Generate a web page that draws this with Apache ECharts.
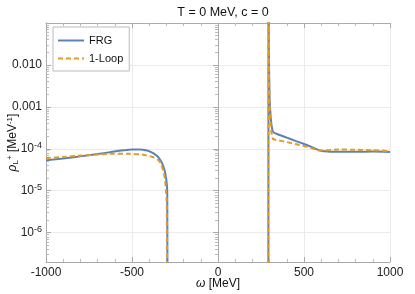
<!DOCTYPE html>
<html>
<head>
<meta charset="utf-8">
<script src="https://cdn.jsdelivr.net/npm/echarts@6/dist/echarts.min.js"></script>
<style>html,body{margin:0;padding:0;background:#fff}#c{width:415px;height:294px}</style>
</head>
<body>
<div id="c"></div>
<script>
// ---- data ----
const omegaLeftFRG  = [-1000,-900,-800,-700,-628,-550,-500,-450,-420,-395,-375,-357,-340,-328,-318,-308,-302,-298,-295,-293];
const frgLeft       = [5.3e-5,5.9e-5,6.6e-5,7.5e-5,8.3e-5,9.2e-5,9.6e-5,9.6e-5,9.2e-5,8.6e-5,7.8e-5,6.9e-5,5.8e-5,4.8e-5,3.8e-5,2.8e-5,2.0e-5,1.5e-5,9e-6,1e-10];
const omegaRightFRG = [293,293.5,296,300,305,310,315,321,350,400,450,500,550,593,620,650,700,800,900,1000];
const frgRight      = [1e-10,1,2e-2,1.6e-3,6.8e-4,4e-4,3e-4,2.5e-4,2.2e-4,1.85e-4,1.55e-4,1.3e-4,1.08e-4,9.1e-5,8.7e-5,8.5e-5,8.5e-5,8.5e-5,8.6e-5,8.4e-5];

const omegaLeftLoop  = [-1000,-900,-800,-700,-628,-512,-434,-376,-350,-337,-318,-308,-302,-298,-295];
const loopLeft       = [6.0e-5,6.4e-5,6.9e-5,7.3e-5,7.6e-5,7.6e-5,7.2e-5,6.3e-5,5.5e-5,4.8e-5,3.0e-5,1.8e-5,9.4e-6,5e-6,1e-10];
const omegaRightLoop = [293,293.5,296,300,305,310,315,321,350,400,450,500,550,593,650,700,800,900,1000];
const loopRight      = [1e-10,1,1e-2,1.2e-3,4.5e-4,2.6e-4,2e-4,1.7e-4,1.6e-4,1.45e-4,1.3e-4,1.16e-4,1.02e-4,9.1e-5,9.4e-5,9.6e-5,9.5e-5,9.2e-5,8.8e-5];

const seriesNames = ['FRG', '1-Loop'];
const yMin = 2e-7, yMax = 0.1;

function zip(xs, ys) { return xs.map((x, i) => [x, ys[i]]); }

const BLUE = '#5E81B5', ORANGE = '#E19C24';
const FONT = 'Liberation Sans, Arial, sans-serif';

const chart = echarts.init(document.getElementById('c'), null, {renderer: 'canvas'});

function yLabel(v) {
  const l = Math.log10(v);
  const e = Math.round(l);
  if (Math.abs(l - e) > 1e-6) return '';
  if (e >= -1) return '';
  if (e === -2) return '0.010';
  if (e === -3) return '0.001';
  return '10{sup|' + e + '}';
}

const common = {
  type: 'line', showSymbol: false, symbol: 'none', smooth: 0.3, clip: true
};

chart.setOption({
  animation: false,
  backgroundColor: '#fff',
  title: {
    text: 'T = 0 MeV, c = 0',
    left: 218, top: 1, textAlign: 'center',
    textStyle: {fontFamily: FONT, fontSize: 12.5, fontWeight: 'normal', color: '#111'}
  },
  legend: {
    data: seriesNames,
    orient: 'vertical', left: 53, top: 27,
    backgroundColor: '#fff', borderColor: '#bbb', borderWidth: 1, borderRadius: 0,
    padding: [8, 6, 7, 4], itemWidth: 26, itemHeight: 10, itemGap: 7,
    itemStyle: {opacity: 0},
    textStyle: {fontFamily: FONT, fontSize: 11, color: '#111'}
  },
  grid: {left: 46, right: 25, top: 23, bottom: 32, containLabel: false, outerBoundsMode: 'none'},
  xAxis: [{
    type: 'value', min: -1000, max: 1000, interval: 500,
    name: '{i|ω} [MeV]', nameLocation: 'middle', nameGap: 16, nameMoveOverlap: false,
    nameTextStyle: {fontFamily: FONT, fontSize: 12, color: '#111',
      rich: {i: {fontStyle: 'italic', fontFamily: FONT, fontSize: 12, color: '#111'}}},
    axisLine: {show: true, onZero: false, lineStyle: {color: '#aaa', width: 1}},
    axisTick: {show: true, inside: true, length: 5, lineStyle: {color: '#aaa'}},
    minorTick: {show: true, splitNumber: 5, length: 3, lineStyle: {color: '#bbb'}},
    axisLabel: {fontFamily: FONT, fontSize: 12, color: '#222', margin: 5, formatter: v => String(v)},
    splitLine: {show: true, lineStyle: {color: '#ebebeb', width: 1}}
  }, {
    type: 'value', position: 'top', min: -1000, max: 1000, interval: 500,
    axisLine: {show: true, lineStyle: {color: '#aaa', width: 1}},
    axisTick: {show: true, inside: true, length: 5, lineStyle: {color: '#aaa'}},
    minorTick: {show: true, splitNumber: 5, length: 3, lineStyle: {color: '#bbb'}},
    axisLabel: {show: false}, splitLine: {show: false}
  }],
  yAxis: [{
    type: 'log', logBase: 10, min: yMin, max: yMax,
    name: '{i|ρ}{sub|L}{sup|+} [MeV{sup|-1}]', nameLocation: 'middle', nameGap: 26, nameRotate: 90,
    nameMoveOverlap: false,
    nameTextStyle: {fontFamily: FONT, fontSize: 12, color: '#111',
      rich: {
        i: {fontStyle: 'italic', fontFamily: FONT, fontSize: 12, color: '#111'},
        sub: {fontFamily: FONT, fontSize: 8, color: '#111', verticalAlign: 'bottom', padding: [6, 0, 0, 0]},
        sup: {fontFamily: FONT, fontSize: 8, color: '#111', verticalAlign: 'top', padding: [0, 0, 6, 0]}
      }},
    axisLine: {show: true, onZero: false, lineStyle: {color: '#aaa', width: 1}},
    axisTick: {show: true, inside: true, length: 5, lineStyle: {color: '#aaa'}},
    minorTick: {show: true, splitNumber: 9, length: 3, lineStyle: {color: '#bbb'}},
    axisLabel: {fontFamily: FONT, fontSize: 12, color: '#222', margin: 4, formatter: yLabel,
      rich: {sup: {fontFamily: FONT, fontSize: 9, color: '#222', verticalAlign: 'top', padding: [0, 0, 7, 0]}}},
    splitLine: {show: true, lineStyle: {color: '#ebebeb', width: 1}}
  }, {
    type: 'log', logBase: 10, min: yMin, max: yMax, position: 'right',
    axisLine: {show: true, lineStyle: {color: '#aaa', width: 1}},
    axisTick: {show: true, inside: true, length: 5, lineStyle: {color: '#aaa'}},
    minorTick: {show: true, splitNumber: 9, length: 3, lineStyle: {color: '#bbb'}},
    axisLabel: {show: false}, splitLine: {show: false}
  }],
  series: [
    Object.assign({}, common, {name: seriesNames[0], data: zip(omegaLeftFRG, frgLeft),
      lineStyle: {color: BLUE, width: 2}, itemStyle: {color: BLUE}, z: 2}),
    Object.assign({}, common, {name: seriesNames[0], data: zip(omegaRightFRG, frgRight),
      lineStyle: {color: BLUE, width: 2}, itemStyle: {color: BLUE}, z: 2}),
    Object.assign({}, common, {name: seriesNames[1], data: zip(omegaLeftLoop, loopLeft),
      lineStyle: {color: ORANGE, width: 2, type: [5, 3]}, itemStyle: {color: ORANGE}, z: 3}),
    Object.assign({}, common, {name: seriesNames[1], data: zip(omegaRightLoop, loopRight),
      lineStyle: {color: ORANGE, width: 2, type: [5, 3]}, itemStyle: {color: ORANGE}, z: 3})
  ]
});
</script>
</body>
</html>
